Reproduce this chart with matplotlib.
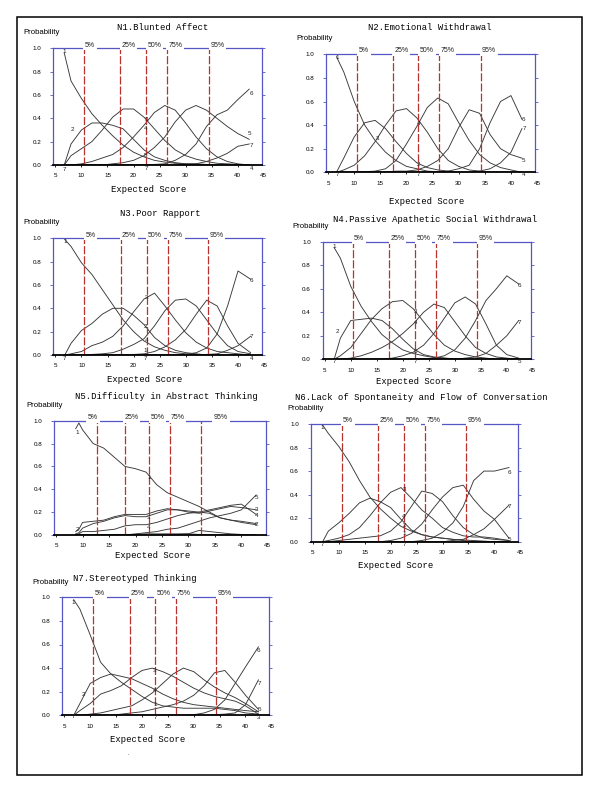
#category probability curves for the 7 negative symptom items
import matplotlib
matplotlib.use('Agg')
import matplotlib.pyplot as plt
from matplotlib.patches import Rectangle

plt.rcParams['font.family'] = ['Liberation Sans', 'DejaVu Sans']

# ---- data ----
score_grid = [8, 10, 12, 14, 16, 18, 20, 22, 24, 26, 28, 30, 32, 34, 36, 38, 40]
pct_labels = ['5%', '25%', '50%', '75%', '95%']
y_ticks = [0.0, 0.2, 0.4, 0.6, 0.8, 1.0]
y_ticklabels = ['0.0', '0.2', '0.4', '0.6', '0.8', '1.0']
x_ticks = [5, 10, 15, 20, 25, 30, 35, 40]

titles = ['N1.Blunted Affect', 'N2.Emotional Withdrawal', 'N3.Poor Rapport',
          'N4.Passive Apathetic Social Withdrawal',
          'N5.Difficulty in Abstract Thinking',
          'N6.Lack of Spontaneity and Flow of Conversation',
          'N7.Stereotyped Thinking']

n1_x = [6.7] + score_grid + [42.2]
n1_p = [
    [0.96, 0.72, 0.57, 0.44, 0.34, 0.25, 0.17, 0.11, 0.07, 0.04, 0.025, 0.015, 0.01, 0.01, 0.005, 0, 0, 0, 0],
    [0, 0.18, 0.30, 0.36, 0.36, 0.34, 0.31, 0.22, 0.13, 0.07, 0.04, 0.02, 0.01, 0.005, 0, 0, 0, 0, 0],
    [0, 0.08, 0.14, 0.20, 0.30, 0.41, 0.48, 0.48, 0.41, 0.31, 0.21, 0.13, 0.08, 0.05, 0.03, 0.015, 0.01, 0.005, 0],
    [0, 0, 0.01, 0.03, 0.06, 0.09, 0.15, 0.24, 0.34, 0.45, 0.51, 0.47, 0.36, 0.24, 0.14, 0.07, 0.03, 0.01, 0],
    [0, 0, 0, 0, 0, 0.01, 0.02, 0.04, 0.08, 0.15, 0.24, 0.37, 0.47, 0.51, 0.47, 0.40, 0.33, 0.27, 0.22],
    [0, 0, 0, 0, 0, 0, 0, 0, 0, 0.005, 0.01, 0.04, 0.09, 0.18, 0.33, 0.43, 0.47, 0.56, 0.65],
    [0, 0, 0, 0, 0, 0, 0, 0, 0, 0, 0, 0, 0.005, 0.01, 0.03, 0.06, 0.10, 0.16, 0.18]]
n1_pct = [10.4, 17.4, 22.4, 26.4, 34.5]

n2_x = [6.6] + score_grid + [42.1]
n2_p = [
    [0.98, 0.85, 0.60, 0.40, 0.27, 0.17, 0.10, 0.05, 0.03, 0.01, 0.005, 0, 0, 0, 0, 0, 0, 0, 0],
    [0, 0.12, 0.30, 0.42, 0.44, 0.37, 0.26, 0.16, 0.08, 0.04, 0.02, 0.01, 0, 0, 0, 0, 0, 0, 0],
    [0, 0.02, 0.06, 0.14, 0.26, 0.40, 0.52, 0.54, 0.46, 0.34, 0.20, 0.10, 0.05, 0.02, 0.01, 0, 0, 0, 0],
    [0, 0, 0, 0.005, 0.01, 0.03, 0.10, 0.24, 0.39, 0.55, 0.63, 0.58, 0.42, 0.27, 0.15, 0.08, 0.04, 0.02, 0],
    [0, 0, 0, 0, 0, 0, 0.01, 0.01, 0.02, 0.05, 0.10, 0.20, 0.38, 0.53, 0.50, 0.32, 0.20, 0.15, 0.12],
    [0, 0, 0, 0, 0, 0, 0, 0, 0, 0, 0, 0.01, 0.03, 0.06, 0.20, 0.42, 0.60, 0.65, 0.45],
    [0, 0, 0, 0, 0, 0, 0, 0, 0, 0, 0, 0, 0, 0, 0.01, 0.03, 0.08, 0.17, 0.37]]
n2_pct = [10.6, 17.4, 22.3, 26.3, 34.2]

n3_x = [6.8] + score_grid + [42.4]
n3_p = [
    [0.99, 0.93, 0.79, 0.69, 0.56, 0.43, 0.30, 0.20, 0.12, 0.07, 0.04, 0.02, 0.01, 0.005, 0, 0, 0, 0, 0],
    [0, 0.10, 0.21, 0.27, 0.35, 0.40, 0.40, 0.34, 0.26, 0.15, 0.08, 0.04, 0.02, 0.01, 0, 0, 0, 0, 0],
    [0, 0.01, 0.03, 0.08, 0.11, 0.16, 0.25, 0.37, 0.48, 0.53, 0.42, 0.30, 0.19, 0.11, 0.06, 0.03, 0.02, 0.01, 0],
    [0, 0, 0, 0.005, 0.01, 0.02, 0.05, 0.09, 0.14, 0.25, 0.38, 0.47, 0.48, 0.42, 0.30, 0.18, 0.08, 0.03, 0.01],
    [0, 0, 0, 0, 0, 0, 0, 0.005, 0.01, 0.03, 0.07, 0.13, 0.22, 0.35, 0.47, 0.42, 0.25, 0.10, 0.02],
    [0, 0, 0, 0, 0, 0, 0, 0, 0, 0, 0, 0, 0.005, 0.02, 0.06, 0.18, 0.42, 0.72, 0.65],
    [0, 0, 0, 0, 0, 0, 0, 0, 0, 0, 0, 0, 0, 0, 0.005, 0.01, 0.04, 0.08, 0.16]]
n3_pct = [10.5, 17.5, 22.5, 26.5, 34.3]

n4_x = [6.8] + score_grid + [42.3]
n4_p = [
    [0.95, 0.86, 0.62, 0.45, 0.32, 0.21, 0.14, 0.08, 0.05, 0.03, 0.015, 0.01, 0.005, 0, 0, 0, 0, 0, 0],
    [0, 0.18, 0.33, 0.34, 0.35, 0.33, 0.26, 0.17, 0.09, 0.04, 0.02, 0.01, 0, 0, 0, 0, 0, 0, 0],
    [0, 0.03, 0.10, 0.22, 0.34, 0.43, 0.49, 0.50, 0.43, 0.32, 0.21, 0.12, 0.07, 0.04, 0.02, 0.01, 0, 0, 0],
    [0, 0, 0.01, 0.03, 0.06, 0.10, 0.15, 0.22, 0.30, 0.40, 0.47, 0.44, 0.32, 0.20, 0.10, 0.05, 0.02, 0.01, 0],
    [0, 0, 0, 0, 0, 0, 0.01, 0.03, 0.06, 0.12, 0.22, 0.35, 0.48, 0.53, 0.47, 0.30, 0.12, 0.04, 0.01],
    [0, 0, 0, 0, 0, 0, 0, 0, 0, 0.005, 0.01, 0.03, 0.08, 0.18, 0.33, 0.50, 0.60, 0.71, 0.64],
    [0, 0, 0, 0, 0, 0, 0, 0, 0, 0, 0, 0, 0, 0.01, 0.02, 0.05, 0.12, 0.20, 0.33]]
n4_pct = [10.4, 17.4, 22.4, 26.3, 34.3]

n5_x = [8.7, 9.3, 10, 12, 14, 16, 18, 20, 22, 24, 26, 28, 30, 32, 34, 36, 38, 40, 42.8]
n5_p = [
    [0.93, 0.98, 0.92, 0.80, 0.76, 0.68, 0.60, 0.58, 0.55, 0.44, 0.37, 0.33, 0.29, 0.25, 0.20, 0.15, 0.13, 0.12, 0.10],
    [0.03, 0.05, 0.11, 0.12, 0.13, 0.16, 0.18, 0.18, 0.18, 0.21, 0.23, 0.22, 0.21, 0.20, 0.19, 0.15, 0.13, 0.11, 0.09],
    [0.01, 0.02, 0.06, 0.10, 0.12, 0.15, 0.17, 0.16, 0.16, 0.19, 0.22, 0.22, 0.20, 0.19, 0.21, 0.23, 0.25, 0.24, 0.22],
    [0, 0.01, 0.03, 0.03, 0.04, 0.05, 0.08, 0.09, 0.09, 0.11, 0.14, 0.17, 0.19, 0.20, 0.22, 0.24, 0.26, 0.27, 0.18],
    [0, 0, 0, 0, 0, 0, 0, 0.01, 0.02, 0.03, 0.05, 0.06, 0.09, 0.12, 0.15, 0.17, 0.19, 0.22, 0.35],
    [0, 0, 0, 0, 0, 0, 0, 0, 0, 0, 0, 0.005, 0.01, 0.04, 0.03, 0.02, 0.01, 0.005, 0],
    [0, 0, 0, 0, 0, 0.005, 0.005, 0.005, 0.01, 0.01, 0.01, 0.01, 0.01, 0.005, 0.005, 0, 0, 0, 0]]
n5_pct = [12.7, 18.0, 22.5, 26.5, 32.3]

n6_x = [6.9] + score_grid + [42.8]
n6_p = [
    [0.99, 0.92, 0.81, 0.68, 0.52, 0.38, 0.28, 0.20, 0.13, 0.09, 0.06, 0.04, 0.03, 0.02, 0.015, 0.01, 0.005, 0, 0],
    [0, 0.09, 0.16, 0.24, 0.33, 0.37, 0.34, 0.29, 0.19, 0.10, 0.06, 0.04, 0.03, 0.02, 0.01, 0, 0, 0, 0],
    [0, 0.01, 0.03, 0.06, 0.12, 0.22, 0.33, 0.42, 0.46, 0.37, 0.27, 0.20, 0.12, 0.08, 0.05, 0.04, 0.04, 0.03, 0.01],
    [0, 0, 0.01, 0.02, 0.03, 0.04, 0.05, 0.09, 0.17, 0.30, 0.43, 0.41, 0.34, 0.22, 0.12, 0.06, 0.03, 0.02, 0.01],
    [0, 0, 0, 0, 0, 0, 0, 0.01, 0.03, 0.07, 0.15, 0.27, 0.38, 0.46, 0.48, 0.36, 0.26, 0.19, 0.03],
    [0, 0, 0, 0, 0, 0, 0, 0, 0, 0, 0.01, 0.03, 0.08, 0.16, 0.30, 0.52, 0.60, 0.60, 0.63],
    [0, 0, 0, 0, 0, 0, 0, 0, 0, 0, 0, 0, 0, 0.01, 0.02, 0.06, 0.11, 0.19, 0.31]]
n6_pct = [10.6, 17.6, 22.6, 26.7, 34.6]

n7_x = [6.8] + score_grid + [42.5]
n7_p = [
    [0.98, 0.90, 0.68, 0.45, 0.35, 0.28, 0.22, 0.16, 0.11, 0.08, 0.07, 0.06, 0.06, 0.06, 0.06, 0.05, 0.04, 0.02, 0.01],
    [0, 0.10, 0.27, 0.32, 0.35, 0.33, 0.31, 0.27, 0.23, 0.18, 0.14, 0.11, 0.09, 0.08, 0.07, 0.06, 0.05, 0.04, 0.03],
    [0, 0.04, 0.10, 0.18, 0.21, 0.25, 0.32, 0.38, 0.40, 0.37, 0.33, 0.28, 0.23, 0.19, 0.16, 0.14, 0.12, 0.08, 0.01],
    [0, 0, 0.01, 0.02, 0.04, 0.06, 0.08, 0.13, 0.19, 0.27, 0.35, 0.40, 0.37, 0.30, 0.24, 0.19, 0.15, 0.10, 0.03],
    [0, 0, 0, 0, 0, 0.01, 0.02, 0.03, 0.05, 0.07, 0.09, 0.12, 0.17, 0.25, 0.36, 0.38, 0.28, 0.17, 0.05],
    [0, 0, 0, 0, 0, 0, 0, 0, 0, 0, 0, 0, 0.005, 0.02, 0.05, 0.13, 0.27, 0.41, 0.58],
    [0, 0, 0, 0, 0, 0, 0, 0, 0, 0, 0, 0, 0, 0, 0.005, 0.01, 0.02, 0.09, 0.30]]
n7_pct = [10.6, 17.6, 22.5, 26.5, 34.3]

# category numbers written next to the curves (text, x, y)
n1_tags = [('1', 6.7, 0.97), ('7', 6.7, -0.035), ('2', 8.3, 0.30), ('3', 22.4, 0.39), ('4', 22.4, 0.31),
           ('5', 22.2, 0.08), ('7', 22.4, -0.03), ('6', 42.7, 0.61), ('5', 42.2, 0.27), ('7', 42.7, 0.17),
           ('4', 42.7, -0.03)]
n2_tags = [('1', 6.8, 0.97), ('7', 6.8, -0.02), ('3', 14.5, 0.29), ('4', 22.3, 0.41), ('2', 22.2, 0.07),
           ('7', 22.2, -0.02), ('6', 42.3, 0.45), ('7', 42.5, 0.37), ('5', 42.3, 0.10), ('4', 42.5, -0.02)]
n3_tags = [('1', 6.8, 0.97), ('7', 6.8, -0.03), ('3', 22.5, 0.49), ('2', 22.3, 0.24), ('4', 22.5, 0.12),
           ('1', 22.3, 0.04), ('7', 22.3, -0.03), ('6', 42.6, 0.64), ('7', 42.6, 0.16), ('4', 42.6, -0.03)]
n4_tags = [('1', 6.8, 0.96), ('2', 7.4, 0.24), ('7', 6.8, -0.02), ('3', 22.4, 0.41), ('4', 22.4, 0.31),
           ('5', 22.4, 0.065), ('7', 22.4, -0.02), ('6', 42.5, 0.63), ('7', 42.5, 0.31), ('5', 42.5, -0.02)]
n5_tags = [('1', 9.0, 0.90), ('2', 9.0, 0.05), ('1', 22.5, 0.50), ('3', 22.5, 0.155), ('4', 22.5, 0.067),
           ('7', 22.5, -0.015), ('5', 42.9, 0.33), ('3', 42.9, 0.22), ('4', 42.9, 0.17), ('2', 42.9, 0.09)]
n6_tags = [('1', 6.9, 0.97), ('7', 6.9, -0.02), ('3', 22.6, 0.44), ('4', 22.6, 0.21), ('2', 22.6, 0.14),
           ('1', 22.6, 0.07), ('7', 22.6, -0.02), ('6', 42.9, 0.59), ('7', 42.9, 0.30), ('5', 42.9, 0.02)]
n7_tags = [('1', 6.8, 0.96), ('7', 6.8, -0.01), ('2', 8.7, 0.18), ('3', 22.5, 0.38), ('4', 22.5, 0.21),
           ('1', 22.5, 0.09), ('7', 22.5, -0.02), ('6', 42.5, 0.55), ('7', 42.6, 0.27), ('5', 42.6, 0.045),
           ('3', 42.6, -0.015)]

# ---- layout (pixels in a 600x791 picture) ----
W, H = 600, 791
BLUE = '#5555c4'
RED = '#b83232'
CURVE = '#383838'

# spine left, spine right, y of 1.0, y of 0.0
boxes = [(53.3, 261.7, 48.3, 165.0), (326.0, 535.0, 54.3, 172.3),
         (53.3, 262.0, 238.3, 355.0), (322.7, 530.7, 241.7, 359.3),
         (54.0, 265.7, 420.7, 535.0), (310.7, 518.3, 424.0, 541.7),
         (62.3, 269.3, 597.3, 715.3)]
title_pos = [(163, 27.3), (430, 27.7), (160, 214), (435, 219.3), (166.7, 396.7), (421.7, 397.3), (135.3, 578.3)]
prob_pos = [(23.3, 32.7), (296.7, 39), (23.3, 222.7), (292.7, 226), (26, 405.7), (287, 408.3), (32.3, 582.7)]
xlab_pos = [(148.3, 189), (426.7, 201.7), (145, 379.3), (414, 381), (152.7, 556), (396, 565), (147.7, 739.3)]


def fx(px):
    return px / W


def fy(py):
    return 1 - py / H


fig = plt.figure(figsize=(6, 7.91), dpi=100)


def draw_item(i, x, probs, pct, tags, pct_x=None):
    x0, x1, yt, yb = boxes[i]
    ax = fig.add_axes([fx(x0), fy(yb), (x1 - x0) / W, (yb - yt) / H])
    for row in probs:
        ax.plot(x, row, color=CURVE, lw=0.65, zorder=2)
    if pct_x is None:
        pct_x = [p + 0.25 for p in pct]
    for p, lx, lab in zip(pct, pct_x, pct_labels):
        ax.plot([p, p], [0, 1], color=RED, lw=0.9, dashes=(6.5, 1.6), zorder=2)
        ax.text(lx, 1.028, lab, fontsize=5, ha='left', va='center', color='#222222', zorder=4,
                bbox=dict(boxstyle='square,pad=0.25', fc='white', ec='none'))
    for s, tx, ty in tags:
        ax.text(tx, ty, s, fontsize=4.5, ha='center', va='center', color='#222222', clip_on=False, zorder=4)
    ax.set_xlim(4.6, 44.6)
    ax.set_ylim(0, 1)
    for side in ['left', 'right', 'top']:
        ax.spines[side].set_color(BLUE)
        ax.spines[side].set_linewidth(0.9)
    ax.spines['bottom'].set_color('black')
    ax.spines['bottom'].set_linewidth(1.3)
    ax.set_yticks(y_ticks)
    ax.set_yticklabels(y_ticklabels)
    ax.set_xticks(x_ticks)
    ax.set_xticklabels([str(t) for t in x_ticks])
    ax.tick_params(axis='y', left=True, right=True, direction='out', length=2, width=0.6,
                   color=BLUE, labelsize=4.5, pad=6.5)
    ax.tick_params(axis='x', direction='out', length=1.5, width=0.6, color='black', labelsize=4.5, pad=4.5)
    ax.annotate('45', xy=(45, 0), xycoords=('data', 'axes fraction'), xytext=(0, -6),
                textcoords='offset points', ha='center', va='top', fontsize=4.5, annotation_clip=False)
    fig.text(fx(title_pos[i][0]), fy(title_pos[i][1]), titles[i], ha='center', va='center',
             family='Liberation Mono', fontsize=6.4)
    fig.text(fx(prob_pos[i][0]), fy(prob_pos[i][1]), 'Probability', ha='left', va='center', fontsize=5.6)
    fig.text(fx(xlab_pos[i][0]), fy(xlab_pos[i][1]), 'Expected Score', ha='center', va='center',
             family='Liberation Mono', fontsize=6.4)
    return ax


draw_item(0, n1_x, n1_p, n1_pct, n1_tags)
draw_item(1, n2_x, n2_p, n2_pct, n2_tags)
draw_item(2, n3_x, n3_p, n3_pct, n3_tags)
draw_item(3, n4_x, n4_p, n4_pct, n4_tags)
draw_item(4, n5_x, n5_p, n5_pct, n5_tags, pct_x=[11.0, 17.9, 22.8, 26.6, 34.8])
draw_item(5, n6_x, n6_p, n6_pct, n6_tags)
draw_item(6, n7_x, n7_p, n7_pct, n7_tags)

# outer frame and the stray dot under the last panel
fig.add_artist(Rectangle((fx(17), fy(775)), (582 - 17) / W, (775 - 17) / H, transform=fig.transFigure,
                         fill=False, ec='black', lw=1.1))
fig.text(fx(128.3), fy(753.3), '.', fontsize=4, ha='center', va='center')

fig.savefig('out.png', dpi=100)
